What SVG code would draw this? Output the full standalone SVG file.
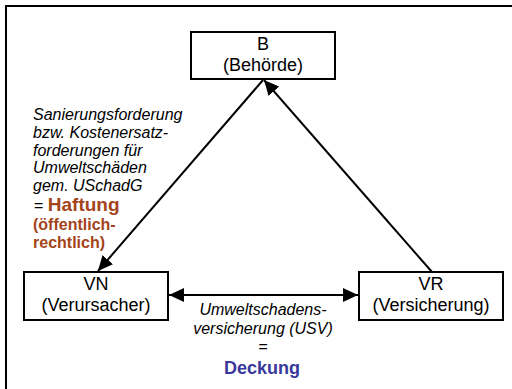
<svg xmlns="http://www.w3.org/2000/svg" width="512" height="389" viewBox="0 0 512 389">
<defs>
<style>
.box{fill:#fff;stroke:#000;stroke-width:2}
.t{font-family:"Liberation Sans",Arial,sans-serif;font-size:18px;fill:#000;text-anchor:middle}
.i{font-family:"Liberation Sans",Arial,sans-serif;font-size:16px;font-style:italic;fill:#000}
.h{font-family:"Liberation Sans",Arial,sans-serif;font-weight:bold;fill:#A4441A}
.d{font-family:"Liberation Sans",Arial,sans-serif;font-weight:bold;fill:#38389C}
.c{stroke:#000;stroke-width:2;fill:none}
</style>
<marker id="ah" markerUnits="userSpaceOnUse" markerWidth="16" markerHeight="14" refX="15" refY="7" orient="auto-start-reverse" viewBox="0 0 16 14">
<path d="M0,0 L15,7 L0,14 Z" fill="#000"/>
</marker>
</defs>
<rect width="512" height="389" fill="#fff"/>
<path d="M6,389 V6 H512" fill="none" stroke="#000" stroke-width="2"/>
<g id="connectors">
<line class="c" x1="263" y1="80" x2="98" y2="271" marker-end="url(#ah)"/>
<line class="c" x1="432" y1="272" x2="264" y2="80" marker-end="url(#ah)"/>
<line class="c" x1="169" y1="295" x2="358" y2="295" marker-start="url(#ah)" marker-end="url(#ah)"/>
</g>
<g id="node-B">
<rect class="box" x="191" y="32" width="144" height="47"/>
<text class="t" x="263" y="50">B</text>
<text class="t" x="263" y="71">(Behörde)</text>
</g>
<g id="node-VN">
<rect class="box" x="24" y="272" width="144" height="48"/>
<text class="t" x="96" y="290">VN</text>
<text class="t" x="96" y="311">(Verursacher)</text>
</g>
<g id="node-VR">
<rect class="box" x="359" y="272" width="144" height="48"/>
<text class="t" x="431" y="290">VR</text>
<text class="t" x="431" y="311">(Versicherung)</text>
</g>
<g id="label-haftung">
<text class="i" x="33" y="120">Sanierungsforderung</text>
<text class="i" x="33" y="138">bzw. Kostenersatz-</text>
<text class="i" x="33" y="156">forderungen für</text>
<text class="i" x="33" y="173">Umweltschäden</text>
<text class="i" x="33" y="191">gem. USchadG</text>
<text x="34" y="211"><tspan class="i" style="font-style:normal">= </tspan><tspan class="h" font-size="19">Haftung</tspan></text>
<text class="h" x="33" y="230" font-size="16">(öffentlich-</text>
<text class="h" x="33" y="248" font-size="16">rechtlich)</text>
</g>
<g id="label-deckung">
<text class="i" x="263" y="315" text-anchor="middle">Umweltschadens-</text>
<text class="i" x="263" y="334" text-anchor="middle">versicherung (USV)</text>
<text class="i" x="263" y="352" text-anchor="middle">=</text>
<text class="d" x="262" y="374" font-size="18" text-anchor="middle">Deckung</text>
</g>
</svg>
